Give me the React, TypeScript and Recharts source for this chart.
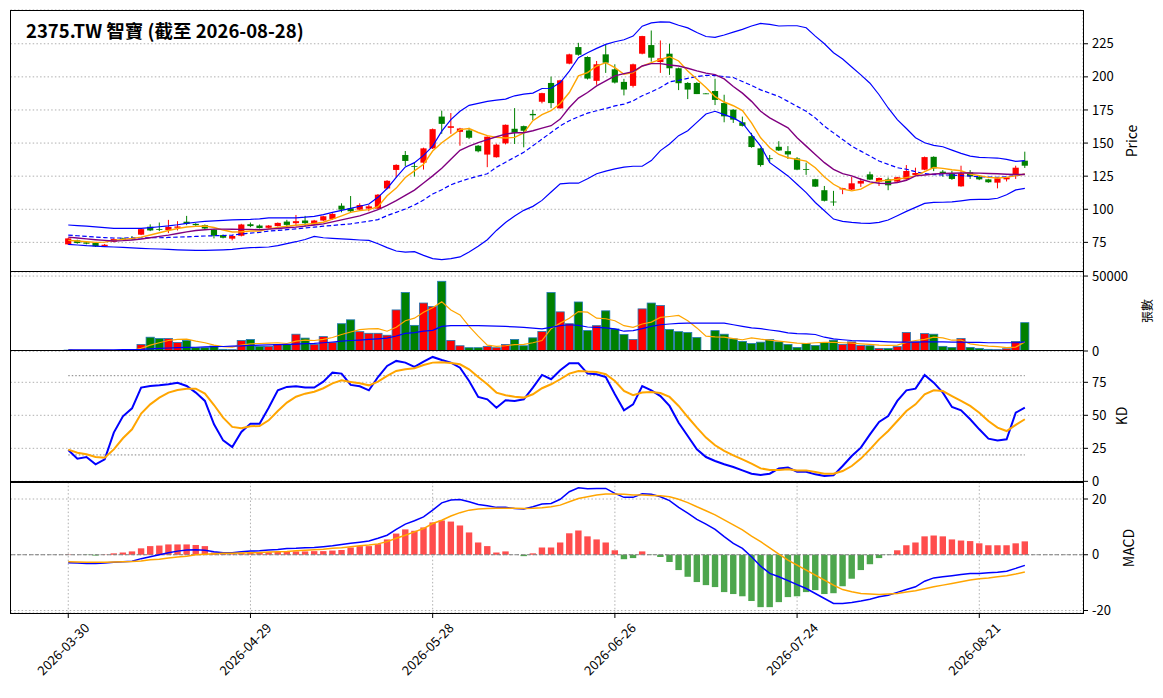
import React from 'react';
import { ComposedChart, Bar, Line, XAxis, YAxis, CartesianGrid, ReferenceLine } from 'recharts';

const dates = [
  '2026-03-30','2026-03-31','2026-04-01','2026-04-02','2026-04-07','2026-04-08','2026-04-09','2026-04-10','2026-04-13','2026-04-14',
  '2026-04-15','2026-04-16','2026-04-17','2026-04-20','2026-04-21','2026-04-22','2026-04-23','2026-04-24','2026-04-27','2026-04-28',
  '2026-04-29','2026-04-30','2026-05-04','2026-05-05','2026-05-06','2026-05-07','2026-05-08','2026-05-11','2026-05-12','2026-05-13',
  '2026-05-14','2026-05-15','2026-05-18','2026-05-19','2026-05-20','2026-05-21','2026-05-22','2026-05-25','2026-05-26','2026-05-27',
  '2026-05-28','2026-05-29','2026-06-01','2026-06-02','2026-06-03','2026-06-04','2026-06-05','2026-06-08','2026-06-09','2026-06-10',
  '2026-06-11','2026-06-12','2026-06-15','2026-06-16','2026-06-17','2026-06-18','2026-06-22','2026-06-23','2026-06-24','2026-06-25',
  '2026-06-26','2026-06-29','2026-06-30','2026-07-01','2026-07-02','2026-07-03','2026-07-06','2026-07-07','2026-07-08','2026-07-09',
  '2026-07-10','2026-07-13','2026-07-14','2026-07-15','2026-07-16','2026-07-17','2026-07-20','2026-07-21','2026-07-22','2026-07-23',
  '2026-07-24','2026-07-27','2026-07-28','2026-07-29','2026-07-30','2026-07-31','2026-08-03','2026-08-04','2026-08-05','2026-08-06',
  '2026-08-07','2026-08-10','2026-08-11','2026-08-12','2026-08-13','2026-08-14','2026-08-17','2026-08-18','2026-08-19','2026-08-20',
  '2026-08-21','2026-08-24','2026-08-25','2026-08-26','2026-08-27','2026-08-28',
];

const tickDates = ['2026-03-30', '2026-04-29', '2026-05-28', '2026-06-26', '2026-07-24', '2026-08-21'];

const openP = [
  73.5, 76.5, 75, 74.5, 72.2, 75.5, 78, 78, 80.8, 86.8,
  85, 84.3, 86, 90.6, 89, 88, 84.6, 80.5, 77.8, 80,
  88.7, 87.7, 86, 87.3, 90.7, 89.5, 91.5, 88.5, 91.5, 92.7,
  102.7, 100.7, 99.7, 100.5, 100.5, 115.7, 129.7, 141, 132.7, 135.2,
  146, 170, 161.5, 158.5, 159.5, 148, 141.3, 139.3, 149.8, 160.8,
  162.8, 172, 181.2, 195.4, 176.2, 210, 222.5, 215, 197, 217,
  205.7, 196.2, 193.2, 217.5, 224, 211.2, 217.5, 206.5, 195.4, 195.4,
  187.5, 189.3, 180.2, 175.2, 165.7, 155.2, 146, 138.5, 147.2, 143.9,
  138.4, 130.4, 122.7, 114.4, 105.8, 115, 114.9, 119.4, 126.4, 120.9,
  122.6, 120.9, 122.6, 125.9, 129.9, 139.6, 128.4, 126.6, 117.3, 127.9,
  124.6, 122.6, 120.1, 122.6, 125.9, 136.7,
];
const highP = [
  78.5, 77, 75.5, 75, 73.8, 78, 78.5, 79.8, 85.5, 88.6,
  90, 92, 91, 95, 89.5, 88.5, 85, 81, 80.5, 89,
  90, 88.5, 88, 90, 92, 95.7, 95, 92, 95, 97,
  104.5, 110, 104.5, 103.5, 111.5, 122, 134, 144, 135, 146.5,
  161, 174.5, 172.7, 161.5, 161.5, 148.5, 155, 149.5, 164, 176.4,
  163.2, 175, 188, 200.2, 197.8, 217.5, 225.7, 215.5, 212, 224.5,
  209.5, 198.5, 210, 231, 235, 227.5, 225, 207, 196, 196,
  187.8, 198.6, 186.5, 175.5, 170, 157.7, 146.5, 141, 151.4, 147.7,
  139.4, 135.2, 123, 117.6, 113.9, 116.2, 124.4, 123.4, 128.4, 124,
  124, 124.5, 133.4, 131.4, 139.8, 140, 129.6, 129, 132.9, 129.6,
  125.8, 123, 123.8, 124.4, 132.9, 143.5,
];
const lowP = [
  73, 74, 73.5, 71.5, 71.8, 75, 76.5, 77, 80.5, 83.5,
  83.5, 82, 84, 88, 87.5, 85, 78, 78, 76.5, 79.5,
  86.5, 85.5, 85.5, 87, 86.5, 87, 87, 88, 91, 92,
  97.7, 98, 99, 98.5, 100, 115, 124, 132.7, 124.7, 130,
  145.5, 157, 157, 148, 153, 143, 131.8, 139, 149, 149.3,
  146.8, 167.4, 180, 176.4, 176, 209.5, 216, 198, 194, 203,
  195, 186, 192, 217, 211.5, 203, 201.5, 190, 183.2, 187,
  187, 178.7, 165.7, 165.2, 162.5, 146.5, 132.2, 135.2, 144, 138,
  129.5, 126, 116.8, 105.9, 102.6, 111.4, 114.5, 116.9, 122, 117.6,
  114.4, 120.5, 122.3, 125.5, 129.5, 128.8, 124.5, 122.2, 117, 122.9,
  122, 120, 115.8, 121, 122.9, 131.2,
];
const closeP = [
  78, 74.5, 74, 72, 73.2, 77.5, 77, 77.5, 85, 84,
  84.7, 86.6, 87, 89, 88, 85.5, 80, 78.5, 79.8, 88.5,
  87.3, 85.8, 87.7, 89.7, 88.2, 91, 89.5, 91.5, 94.7, 96.5,
  99.7, 98.5, 103.2, 102.2, 111, 121.5, 133.5, 136.5, 132.2, 146,
  160.5, 164.5, 162.7, 161, 154, 143.8, 154.8, 148.8, 163.8, 157.8,
  159.3, 171, 187.7, 180.2, 197.4, 217, 216.7, 198.7, 209.5, 210.7,
  195.7, 190.4, 209.5, 230.8, 214.5, 214, 206.5, 195.2, 190.4, 187,
  187.2, 182.6, 170.2, 167.7, 163, 147, 133.4, 138.2, 144.4, 141.4,
  129.9, 130.1, 117.1, 106.4, 105.5, 115.9, 119.6, 121.4, 122.4, 123.6,
  118.1, 124.2, 128.9, 127.4, 139.4, 130.9, 127.1, 122.9, 127.1, 124.9,
  122.6, 120.4, 123.4, 124.1, 131.4, 132.9,
];

const bbUpper = [
  88.1, 87.6, 87.2, 86.7, 86.2, 85.6, 85.5, 85.5, 85.6, 86.2,
  86.8, 87.4, 88.3, 89.4, 90.2, 90.8, 91.2, 91.6, 92, 92.2,
  92.4, 92.8, 93.5, 93.5, 93.5, 93.5, 94, 94.7, 96, 97.7,
  99.2, 100.7, 102.3, 104, 109, 115.7, 124, 132, 135.2, 140.7,
  147.7, 159, 167.7, 174, 178.5, 180, 181.5, 182.4, 183.2, 185.7,
  187, 187.7, 191.2, 191.4, 195.7, 204.4, 214.5, 218.2, 221.5, 224.5,
  226.5, 228, 230.8, 238.3, 240.8, 241.5, 241.3, 239, 237, 233.5,
  230.5, 229.8, 231.6, 233.8, 235.9, 238.4, 240.4, 239.6, 238.4, 238.6,
  238.6, 237.1, 230.8, 225, 218.2, 213.5, 207.5, 201.5, 195.2, 186.5,
  176.5, 167.7, 161, 154, 150.2, 148.2, 147.2, 144.7, 142.2, 140.2,
  139.2, 138.9, 138.7, 137.7, 136.2, 136.7,
];
const bbMid = [
  80.5, 80, 79.5, 79, 78.6, 78.3, 78.3, 78.4, 78.4, 78.5,
  78.5, 78.7, 79, 79.2, 79.5, 79.8, 80, 80.2, 80.5, 81.3,
  82, 82.6, 83.5, 84, 84.6, 85.2, 85.9, 86.5, 87.2, 87.8,
  88.4, 89, 90, 91, 92.2, 95.2, 97.7, 100.2, 103.2, 107,
  111.5, 114.7, 118.5, 121, 123.2, 125, 126.8, 131.8, 135.5, 139.3,
  143, 148, 153, 158, 163, 166.9, 169.9, 172.6, 174.4, 176.1,
  178.1, 179.4, 181.9, 185.7, 188.7, 191.9, 196.2, 197.4, 198.9, 200.2,
  201.1, 201, 200.2, 199.5, 196.5, 193.5, 190.2, 187.7, 185.2, 181.5,
  177.7, 174, 169, 162.7, 157.7, 152.7, 147.7, 143.9, 140.2, 136.4,
  133.9, 131.4, 130.2, 128.4, 126.9, 126.2, 125.9, 125.9, 125.4, 125,
  124.6, 124.3, 124.1, 124.6, 125.4, 126.6,
];
const bbLower = [
  73.5, 73, 72.5, 72.2, 71.8, 71.5, 71.2, 70.8, 70.5, 70.2,
  70, 69.7, 69.4, 69.2, 69, 69, 69.2, 69.4, 69.7, 70.5,
  71, 71.2, 71.5, 72.5, 74, 75.5, 77.2, 79.5, 78.5, 78,
  77.6, 77.2, 76.8, 76.5, 74, 71, 68.5, 67.7, 68, 65.2,
  62.7, 62, 62.7, 64, 67.7, 72, 77, 84, 90, 95,
  99.2, 102.2, 106.7, 113, 119.2, 119.7, 119.7, 123, 126.8, 128.8,
  130.5, 131.8, 132.5, 132.5, 136.8, 144.3, 149.3, 155.6, 159.3, 165.6,
  172, 174, 171.5, 169, 165.2, 156.4, 147.7, 135.2, 130.2, 125.2,
  118.9, 112.6, 105.1, 98.9, 92.6, 90.9, 90.1, 89.6, 89.4, 90.1,
  91.9, 95.1, 98.4, 101.4, 104.4, 105.2, 105.3, 105.6, 106.4, 107.3,
  107.5, 107.5, 108.3, 111, 114.6, 115.8,
];
const ma5 = [
  76.5, 76, 75.5, 75, 75.2, 76.5, 77.2, 78, 79, 80.6,
  82.3, 84, 85.5, 86.6, 87.1, 87.4, 86.2, 84.3, 82.8, 83,
  83.6, 83.5, 85.2, 86.3, 87.2, 87.9, 88.5, 89.3, 90.2, 92.5,
  95, 97.7, 99, 99.7, 102, 110.2, 116, 124, 129, 134,
  144, 150.2, 155.2, 160.2, 161, 158, 155.6, 154.3, 153.8, 154.3,
  157.6, 166.9, 171.4, 174.4, 179.9, 188.2, 200.7, 203.2, 208.2, 210.7,
  207, 202, 203.2, 208.2, 210.7, 213.2, 215.2, 212, 204.4, 198.2,
  192, 185, 181, 178.2, 174.5, 165.2, 154, 146.4, 141.4, 138.9,
  137.7, 136.4, 131.4, 124.4, 118.9, 115.2, 113.9, 115.2, 119, 121.4,
  121.9, 122.7, 123.9, 125.2, 128.4, 131.5, 130.9, 129.9, 129.1, 126.6,
  125.4, 124.1, 123.6, 124.1, 125.4, 126.6,
];
const ma10 = [
  79, 78.3, 77.6, 77, 76.5, 76, 76.3, 76.8, 77.5, 78.5,
  79.5, 80.5, 81.7, 82.9, 84, 84.5, 85, 85, 84.9, 84.8,
  84.8, 84.5, 85, 85.5, 86, 86.5, 87.3, 88.1, 89, 90.5,
  92, 93.5, 95, 97.3, 99.7, 103, 106.5, 110.5, 114.5, 119.8,
  125.2, 131, 137.7, 144.5, 147.7, 150.4, 152.6, 154.8, 156.8, 157.8,
  157.8, 159.3, 161.3, 163.1, 168.1, 176.9, 184, 188.2, 193.2, 196.9,
  200.7, 202.4, 204, 208.2, 210, 210, 209, 208.2, 206.5, 204.5,
  202.8, 201.7, 198.5, 192.7, 187.7, 181.5, 174, 169, 165.2, 161.5,
  154, 147.7, 141.4, 135.2, 130.2, 126.9, 125.2, 122.7, 120.7, 119.7,
  119.4, 120.2, 121.9, 125.2, 125.9, 126.6, 127, 127.2, 127.4, 127.4,
  127.3, 127, 126.8, 126.5, 126.3, 126.3,
];

const volume = [
  600, 300, 300, 400, 300, 300, 400, 500, 4400, 9200,
  8300, 8300, 5700, 7000, 2200, 2200, 3300, 1100, 900, 7000,
  7700, 3100, 3100, 4400, 4400, 11200, 8600, 4400, 9600, 5700,
  18200, 20800, 12900, 11800, 11800, 10500, 27400, 39000, 17100, 32000,
  29600, 46500, 7000, 3500, 2200, 2200, 3100, 2200, 4400, 7700,
  3500, 8800, 13000, 39000, 26100, 18200, 32700, 13600, 16900, 26800,
  14700, 11000, 7700, 28100, 32000, 30300, 14300, 12900, 12300, 9000,
  0, 13600, 11200, 8100, 6400, 5000, 5900, 7700, 6100, 4400,
  2400, 5000, 3700, 5700, 7200, 4400, 6100, 3700, 3500, 1750,
  1750, 2900, 12300, 6100, 11600, 11200, 3100, 2400, 8300, 2400,
  1750, 1100, 900, 1500, 6400, 18900,
];
const volMa5 = [
  600, 500, 450, 420, 380, 340, 340, 380, 1750, 3900,
  5500, 7000, 7700, 7900, 6600, 5500, 3900, 2900, 2600, 3900,
  4800, 5000, 5300, 5500, 5000, 6600, 7200, 7000, 7700, 9000,
  11000, 12700, 14300, 14700, 14900, 13200, 15800, 20200, 21900, 25900,
  28900, 32900, 27400, 24100, 16400, 9900, 3900, 3100, 3500, 4200,
  4400, 5500, 7000, 14900, 18600, 21900, 26300, 25900, 21900, 21500,
  20200, 16900, 15800, 18000, 19300, 22400, 23000, 23700, 20200, 15400,
  9900, 9400, 9200, 8300, 7500, 8800, 7900, 7200, 6600, 5900,
  5300, 5000, 5500, 5700, 5700, 5500, 5300, 4800, 4400, 3900,
  3700, 3900, 5700, 7000, 7700, 9200, 8800, 7200, 7200, 4800,
  3900, 3300, 2900, 2200, 2600, 6100,
];
const volMa20 = [
  800, 800, 800, 800, 850, 850, 900, 950, 1100, 1400,
  1750, 2000, 2200, 2400, 2500, 2700, 2900, 3000, 3200, 3400,
  3700, 3900, 4100, 4300, 4400, 4600, 4900, 5100, 5500, 6000,
  6600, 7000, 7300, 7700, 8100, 8600, 10000, 11800, 12300, 13200,
  13800, 16400, 16900, 16900, 16900, 16900, 16800, 16600, 16400, 16100,
  15800, 15200, 14700, 15800, 16900, 17500, 17100, 16000, 15800, 15400,
  14700, 13200, 13600, 14900, 16400, 17500, 18000, 18400, 18600, 18600,
  18600, 18600, 18600, 17500, 16400, 15400, 14900, 14000, 13200, 12100,
  11600, 11400, 11000, 9200, 8100, 7500, 7000, 6800, 6600, 6400,
  6100, 5900, 5900, 5900, 6100, 6100, 6100, 5900, 5900, 5700,
  5700, 5500, 5500, 5500, 5500, 6100,
];

const kValues = [
  23.7, 17.2, 18.4, 12.9, 16.7, 36.9, 49.2, 55.3, 71, 72.2,
  72.7, 73.5, 74.7, 72.2, 67.2, 60.9, 43.2, 31, 26, 37.4,
  43.7, 43.7, 55.8, 68.9, 71.5, 72, 71, 71, 75.5, 82.3,
  81.6, 73, 72, 68.9, 79, 87.4, 91.2, 89.9, 86.6, 90.7,
  94.2, 91.9, 89.9, 86.1, 76, 63.9, 62.1, 55.8, 61.4, 60.9,
  62.1, 71, 80.6, 77.3, 84.1, 89.4, 89.4, 81.6, 81.1, 79,
  65.9, 53.8, 58.3, 72.2, 68.9, 64.6, 57.1, 44.4, 34.3, 24.2,
  18.4, 15.4, 12.9, 10.9, 8.3, 5.8, 4.8, 5.8, 9.8, 10.4,
  7.3, 7.3, 5.3, 4, 4.5, 11.6, 19.2, 25.5, 35.6, 45,
  49.5, 60.9, 68.9, 70.2, 80.6, 74.7, 67.2, 56.3, 53.8, 47,
  39.4, 32.3, 31, 31.8, 52, 55.8,
];
const dValues = [
  24, 21.7, 20.5, 18.4, 17.9, 24.2, 32.6, 39.4, 51.3, 58.3,
  63.4, 67.2, 69.2, 70.2, 70.2, 66.4, 57.8, 48.2, 41.2, 40.2,
  41.7, 41.9, 46.2, 53.3, 59.6, 64.1, 66.4, 67.9, 70.5, 74.2,
  76.5, 75.3, 74.2, 72.7, 75.5, 79.8, 83.6, 84.8, 85.6, 88.1,
  89.9, 90.2, 89.6, 88.6, 84.8, 79, 73.5, 67.2, 65.2, 64.1,
  63.4, 65.9, 70.5, 73.5, 77.3, 81.6, 83.6, 83.1, 82.8, 81.1,
  76, 68.4, 65.2, 67.2, 67.7, 66.9, 63.9, 57.1, 48.7, 40.7,
  33.1, 27.3, 23, 19.7, 16.7, 13.4, 9.8, 8.6, 8.6, 9.1,
  8.3, 8.3, 7, 5.8, 5.8, 7.8, 11.6, 17.2, 24.2, 31.8,
  38.1, 45.7, 53.3, 58.3, 65.9, 68.9, 68.4, 64.6, 60.9, 57.1,
  52, 45.7, 40.7, 38.1, 42.7, 47,
];

const dif = [
  -2.9, -3, -3.1, -3.1, -3, -2.7, -2.5, -2.3, -1.4, -0.7,
  0, 0.7, 1.3, 1.7, 1.8, 1.6, 1.1, 0.7, 0.7, 1.1,
  1.3, 1.4, 1.7, 1.9, 2.2, 2.3, 2.5, 2.6, 2.9, 3.2,
  3.7, 4.1, 4.5, 4.9, 5.9, 7, 9.1, 11, 12.2, 13.6,
  16, 18.6, 19.6, 19.8, 19, 18, 17.6, 17, 17, 16.6,
  16.4, 17.2, 18.2, 18.4, 19.9, 22.6, 24, 23.7, 23.8, 23.8,
  22, 20.6, 20.6, 21.9, 21.7, 20.8, 19.4, 17, 14.9, 12.7,
  11, 9.1, 6.5, 4.1, 2.3, -0.7, -4.1, -6.7, -7.9, -9.3,
  -10.7, -12.1, -13.9, -15.7, -17.5, -17.5, -17.1, -16.6, -16, -15.1,
  -14.5, -13.5, -12.5, -11.5, -9.5, -8.3, -7.9, -7.5, -7.1, -6.7,
  -6.7, -6.5, -6.3, -5.9, -4.9, -3.8,
];
const dea = [
  -2.5, -2.6, -2.7, -2.7, -2.7, -2.6, -2.5, -2.4, -2.2, -1.8,
  -1.6, -1.2, -0.8, -0.5, 0, 0.2, 0.4, 0.5, 0.5, 0.6,
  0.7, 0.8, 1, 1.1, 1.2, 1.4, 1.6, 1.8, 2, 2.3,
  2.5, 2.9, 3.2, 3.5, 3.9, 4.7, 5.9, 7, 8.2, 9.4,
  11.2, 12.4, 13.9, 15.1, 16, 16.4, 16.6, 16.7, 16.7, 16.7,
  16.6, 16.7, 16.9, 17.2, 17.8, 19, 20.2, 20.8, 21.4, 21.8,
  21.8, 21.7, 21.4, 21.4, 21.3, 21.2, 20.8, 19.9, 18.7, 17.2,
  15.8, 14.3, 12.5, 10.7, 8.9, 6.7, 4.7, 2.5, 0.2, -1.9,
  -3.7, -5.5, -7.3, -9.1, -10.9, -12.5, -13.3, -13.9, -14.1, -14.3,
  -14.1, -13.9, -13.4, -12.9, -12.2, -11.5, -10.9, -10.3, -9.7, -9.1,
  -8.6, -8.3, -7.9, -7.5, -6.9, -6.2,
];
const hist = [
  0.1, 0, -0.1, -0.3, 0.1, 0.5, 0.8, 1.2, 2.3, 3.1,
  3.3, 3.7, 3.7, 3.7, 3.5, 3.1, 0.8, 0.3, 0.2, 0.6,
  0.8, 0.8, 0.9, 1, 1.1, 1.2, 1.2, 1.3, 1.3, 1.5,
  1.7, 2.6, 3.1, 3.1, 3.8, 5.5, 7.6, 9.1, 8.6, 9.8,
  11.6, 12.3, 11.9, 10.5, 8, 4.4, 3.1, 0.8, 1.2, 0,
  -0.5, 0.5, 2.6, 2.6, 4.4, 7.7, 8.7, 6.6, 5.5, 4.4,
  1.6, -1.6, -1.2, 1.2, -0.1, -0.8, -2.6, -5.5, -7.9, -9.8,
  -10.9, -11.6, -13.4, -14.1, -14.9, -16.6, -18.8, -18.8, -17, -15.2,
  -14.9, -13.4, -12.7, -14.1, -13.8, -11.3, -8.6, -5.5, -3.4, -1.2,
  -0.1, 1.6, 3.4, 4.4, 6.6, 6.9, 6.6, 5.5, 5.1, 4.9,
  4.1, 3.4, 3.4, 3.4, 4.1, 4.8,
];

const priceTicks = [75, 100, 125, 150, 175, 200, 225];
const volumeTicks = [0, 50000];
const kdTicks = [0, 25, 50, 75];
const macdTicks = [-20, 0, 20];

const FONT = '"Noto Sans CJK TC", "Noto Sans", sans-serif';
const RED = '#ff0000';
const GREEN = '#008000';
const BLUE = '#0000ff';
const ORANGE = '#ffa500';
const PURPLE = '#800080';
const GRID = '#b0b0b0';

const data = dates.map((d, i) => ({
  date: d,
  o: openP[i],
  h: highP[i],
  l: lowP[i],
  c: closeP[i],
  range: [lowP[i], highP[i]],
  up: bbUpper[i],
  mid: bbMid[i],
  low: bbLower[i],
  ma5: ma5[i],
  ma10: ma10[i],
  vol: volume[i],
  vma5: volMa5[i],
  vma20: volMa20[i],
  k: kValues[i],
  d: dValues[i],
  dif: dif[i],
  dea: dea[i],
  hist: hist[i],
}));

const Candle = (props: any) => {
  const { x, y, width, height, payload } = props;
  if (!payload || height == null) return null;
  const { o, c, h, l } = payload;
  const top = Math.min(y, y + height);
  const hh = Math.abs(height);
  const ppu = hh / (h - l);
  const color = c >= o ? RED : GREEN;
  const cx = x + width / 2;
  const yO = top + (h - o) * ppu;
  const yC = top + (h - c) * ppu;
  const bTop = Math.min(yO, yC);
  const bH = Math.max(Math.abs(yO - yC), 0.8);
  const bw = 6.2;
  return (
    <g>
      <line x1={cx} x2={cx} y1={top} y2={top + hh} stroke={color} strokeWidth={1} />
      <rect x={cx - bw / 2} y={bTop} width={bw} height={bH} fill={color} />
    </g>
  );
};

const VolBar = (props: any) => {
  const { x, y, width, height, payload } = props;
  if (!payload || !height) return null;
  const top = Math.min(y, y + height);
  const hh = Math.abs(height);
  const bw = 8.2;
  const cx = x + width / 2;
  const fill = payload.c >= payload.o ? RED : GREEN;
  return <rect x={cx - bw / 2} y={top} width={bw} height={hh} fill={fill} stroke="#1f77b4" strokeWidth={0.8} />;
};

const HistBar = (props: any) => {
  const { x, y, width, height, payload } = props;
  if (!payload || !height) return null;
  const top = Math.min(y, y + height);
  const hh = Math.abs(height);
  const bw = 6.4;
  const cx = x + width / 2;
  const fill = payload.hist >= 0 ? '#ff4d4d' : '#4da64d';
  return <rect x={cx - bw / 2} y={top} width={bw} height={hh} fill={fill} />;
};

const DateTick = (props: any) => {
  const { x, y, payload } = props;
  return (
    <text
      x={0}
      y={0}
      transform={`translate(${x + 22},${y + 11}) rotate(-45)`}
      textAnchor="end"
      fontSize={13}
      fill="#000"
      fontFamily={FONT}
    >
      {payload.value}
    </text>
  );
};

const W = 1163;
const LEFT = 10.5;
const YW = 80;
const EXTRA = 9;
const PAD = { left: 53.2, right: 53.6 };
const yTick = { fontSize: 13, fill: '#000', fontFamily: FONT };

const xAxisHidden = (
  <XAxis
    dataKey="date"
    type="category"
    scale="band"
    ticks={tickDates}
    interval={0}
    padding={PAD}
    height={0}
    tick={false}
    tickLine={false}
    axisLine={false}
  />
);

const rightAxis = (domain: number[], ticks: number[]) => (
  <YAxis
    orientation="right"
    type="number"
    domain={domain}
    ticks={ticks}
    allowDataOverflow
    width={YW}
    axisLine={false}
    tickLine={{ stroke: '#000' }}
    tickSize={5}
    tickMargin={4}
    tick={yTick}
    interval={0}
  />
);

const grid = <CartesianGrid stroke={GRID} strokeDasharray="1.5 2.2" vertical horizontal />;

const panels = {
  price: { top: 10, h: 261.5 },
  vol: { top: 271.5, h: 79 },
  kd: { top: 350.5, h: 131 },
  macd: { top: 482, h: 131 },
};

const Frame = ({ top, h }: { top: number; h: number }) => (
  <div
    style={{
      position: 'absolute',
      left: LEFT - 0.5,
      top: top - 0.5,
      width: W - YW - LEFT + 1,
      height: h + 1,
      border: '1px solid #000',
      boxSizing: 'border-box',
      pointerEvents: 'none',
    }}
  />
);

export default function App() {
  const margin = { top: EXTRA, right: 0, bottom: EXTRA, left: LEFT };
  const marginBottom = { top: EXTRA, right: 0, bottom: 0, left: LEFT };
  return (
    <div style={{ position: 'absolute', left: 0, top: 0, width: W, height: 698, background: '#fff', fontFamily: FONT, overflow: 'hidden' }}>
      <div style={{ position: 'absolute', left: 0, top: panels.price.top - EXTRA }}>
        <ComposedChart width={W} height={panels.price.h + 2 * EXTRA} data={data} margin={margin}>
          {grid}
          {xAxisHidden}
          {rightAxis([53, 250.5], priceTicks)}
          <Line dataKey="up" stroke={BLUE} strokeWidth={1.2} dot={false} isAnimationActive={false} />
          <Line dataKey="low" stroke={BLUE} strokeWidth={1.2} dot={false} isAnimationActive={false} />
          <Line dataKey="mid" stroke={BLUE} strokeWidth={1.2} strokeDasharray="4.5 2.5" dot={false} isAnimationActive={false} />
          <Bar dataKey="range" barSize={9} shape={<Candle />} isAnimationActive={false} />
          <Line dataKey="ma5" stroke={ORANGE} strokeWidth={1.4} dot={false} isAnimationActive={false} />
          <Line dataKey="ma10" stroke={PURPLE} strokeWidth={1.4} dot={false} isAnimationActive={false} />
        </ComposedChart>
      </div>
      <div style={{ position: 'absolute', left: 0, top: panels.vol.top - EXTRA }}>
        <ComposedChart width={W} height={panels.vol.h + 2 * EXTRA} data={data} margin={margin}>
          {grid}
          {xAxisHidden}
          {rightAxis([0, 52700], volumeTicks)}
          <Bar dataKey="vol" barSize={9} shape={<VolBar />} isAnimationActive={false} />
          <Line dataKey="vma5" stroke={ORANGE} strokeWidth={1.2} dot={false} isAnimationActive={false} />
          <Line dataKey="vma20" stroke={BLUE} strokeWidth={1.2} dot={false} isAnimationActive={false} />
        </ComposedChart>
      </div>
      <div style={{ position: 'absolute', left: 0, top: panels.kd.top - EXTRA }}>
        <ComposedChart width={W} height={panels.kd.h + 2 * EXTRA} data={data} margin={margin}>
          {grid}
          {xAxisHidden}
          {rightAxis([-0.5, 98.7], kdTicks)}
          <Bar dataKey="none" barSize={9} isAnimationActive={false} />
          <ReferenceLine
            segment={[{ x: dates[0], y: 80 }, { x: dates[dates.length - 1], y: 80 }]}
            stroke="#808080"
            strokeDasharray="1.5 2"
            strokeWidth={1}
          />
          <ReferenceLine
            segment={[{ x: dates[0], y: 20 }, { x: dates[dates.length - 1], y: 20 }]}
            stroke="#808080"
            strokeDasharray="1.5 2"
            strokeWidth={1}
          />
          <Line dataKey="k" stroke={BLUE} strokeWidth={2} dot={false} isAnimationActive={false} />
          <Line dataKey="d" stroke={ORANGE} strokeWidth={2} dot={false} isAnimationActive={false} />
        </ComposedChart>
      </div>
      <div style={{ position: 'absolute', left: 0, top: panels.macd.top - EXTRA }}>
        <ComposedChart width={W} height={panels.macd.h + EXTRA + 85} data={data} margin={marginBottom}>
          {grid}
          <XAxis
            dataKey="date"
            type="category"
            scale="band"
            ticks={tickDates}
            interval={0}
            padding={PAD}
            height={85}
            tick={<DateTick />}
            tickLine={{ stroke: '#000' }}
            tickSize={5}
            tickMargin={0}
            axisLine={false}
          />
          {rightAxis([-20.9, 26.1], macdTicks)}
          <ReferenceLine y={0} stroke="#808080" strokeDasharray="4 2" strokeWidth={1} />
          <Bar dataKey="hist" barSize={9} shape={<HistBar />} isAnimationActive={false} />
          <Line dataKey="dif" stroke={BLUE} strokeWidth={1.5} dot={false} isAnimationActive={false} />
          <Line dataKey="dea" stroke={ORANGE} strokeWidth={1.5} dot={false} isAnimationActive={false} />
        </ComposedChart>
      </div>
      <Frame top={panels.price.top} h={panels.price.h} />
      <Frame top={panels.vol.top} h={panels.vol.h} />
      <Frame top={panels.kd.top} h={panels.kd.h} />
      <Frame top={panels.macd.top} h={panels.macd.h} />
      <svg width={W} height={698} style={{ position: 'absolute', left: 0, top: 0, pointerEvents: 'none' }}>
        <text x={26} y={38} fontSize={18.5} fontWeight="bold" fill="#000" fontFamily={FONT}>
          2375.TW 智寶 (截至 2026-08-28)
        </text>
        <text transform="translate(1131,141) rotate(-90)" textAnchor="middle" dominantBaseline="central" fontSize={14} fill="#000" fontFamily={FONT}>
          Price
        </text>
        <text transform="translate(1146,311) rotate(-90)" textAnchor="middle" dominantBaseline="central" fontSize={12} fill="#000" fontFamily={FONT}>
          張數
        </text>
        <text transform="translate(1121,416) rotate(-90)" textAnchor="middle" dominantBaseline="central" fontSize={14} fill="#000" fontFamily={FONT}>
          KD
        </text>
        <text transform="translate(1128,548) rotate(-90)" textAnchor="middle" dominantBaseline="central" fontSize={14} fill="#000" fontFamily={FONT}>
          MACD
        </text>
      </svg>
    </div>
  );
}
